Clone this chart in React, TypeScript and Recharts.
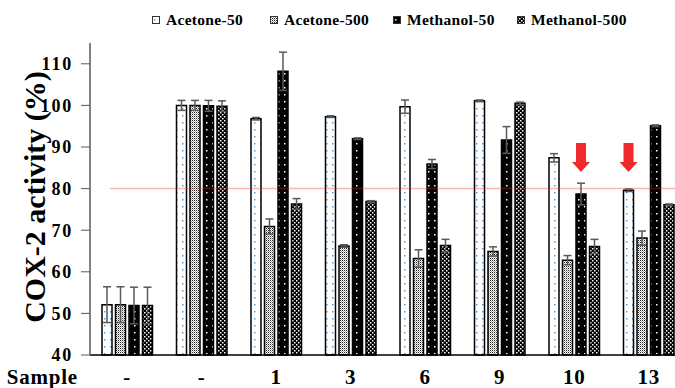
import React from "react";
import {
  BarChart,
  Bar,
  XAxis,
  YAxis,
  ReferenceLine,
  ErrorBar,
  LabelList,
  Legend,
} from "recharts";

const samples = ["-", "-", "1", "3", "6", "9", "10", "13"];

const acetone50 = [52.1, 100, 96.8, 97.3, 99.7, 101.1, 87.4, 79.6];
const acetone50Err = [4.3, 1.2, 0.3, 0.2, 1.6, 0.2, 1.0, 0.3];
const acetone500 = [52.1, 100, 70.9, 66.2, 63.2, 64.9, 62.8, 68.1];
const acetone500Err = [4.3, 1.2, 1.8, 0.3, 2.1, 1.1, 1.1, 1.7];
const methanol50 = [51.9, 99.9, 108.2, 92.0, 85.9, 91.7, 78.7, 95.1];
const methanol50Err = [4.4, 1.3, 4.6, 0.2, 1.1, 3.2, 2.6, 0.2];
const methanol500 = [51.9, 99.8, 76.3, 76.9, 66.3, 100.5, 66.1, 76.1];
const methanol500Err = [4.4, 1.3, 1.3, 0.2, 1.5, 0.3, 1.7, 0.2];

// red arrows marking the interesting bars
const arrowOnAcetone50 = [false, false, false, false, false, false, false, true];
const arrowOnMethanol50 = [false, false, false, false, false, false, true, false];
const arrowTipValue = 84;

const threshold = 80;
const yTicks = [40, 50, 60, 70, 80, 90, 100, 110];

const data = samples.map((s, i) => ({
  sample: s,
  a50: acetone50[i],
  a50e: acetone50Err[i],
  a500: acetone500[i],
  a500e: acetone500Err[i],
  m50: methanol50[i],
  m50e: methanol50Err[i],
  m500: methanol500[i],
  m500e: methanol500Err[i],
}));

const FONT = "'Liberation Serif', 'Times New Roman', serif";

const legendItems = [
  { label: "Acetone-50", fill: "url(#patA50)", left: 152 },
  { label: "Acetone-500", fill: "url(#patA500)", left: 270 },
  { label: "Methanol-50", fill: "url(#patM50)", left: 393 },
  { label: "Methanol-500", fill: "url(#patM500)", left: 517 },
];

const renderLegend = () => (
  <div
    style={{
      position: "relative",
      height: 20,
      fontFamily: FONT,
      fontWeight: 700,
      fontSize: 15.5,
      letterSpacing: 0.3,
      whiteSpace: "nowrap",
      color: "#000",
    }}
  >
    {legendItems.map((it) => (
      <div
        key={it.label}
        style={{
          position: "absolute",
          left: it.left,
          top: 0,
          height: 20,
          display: "flex",
          alignItems: "center",
        }}
      >
        <svg width={8} height={8} style={{ marginRight: 6 }}>
          <rect x={0.5} y={0.5} width={7} height={7} fill={it.fill} stroke="#333" strokeWidth={1} />
        </svg>
        <span>{it.label}</span>
      </div>
    ))}
  </div>
);

const makeArrow = (flags: boolean[]) => (props: any) => {
  const vb = props.viewBox ?? props;
  const { x, y, width, height } = vb;
  const idx = props.index;
  if (!flags[idx]) return null;
  const value = Number(props.value);
  const bottom = y + height;
  const ppu = height / (value - 40);
  const tipY = bottom - (arrowTipValue - 40) * ppu;
  const cx = x + width / 2;
  const d = `M${cx - 5},${tipY - 29} L${cx + 5},${tipY - 29} L${cx + 5},${tipY - 10} L${cx + 9},${tipY - 10} L${cx},${tipY} L${cx - 9},${tipY - 10} L${cx - 5},${tipY - 10} Z`;
  return <path d={d} fill="#ee2a2d" />;
};

const XTick = (props: any) => {
  const { x, y, payload } = props;
  return (
    <text
      x={x}
      y={y + 29}
      textAnchor="middle"
      style={{ fontFamily: FONT, fontWeight: 700, fontSize: 21, letterSpacing: 0.8 }}
      fill="#000"
    >
      {payload.value}
    </text>
  );
};

export default function App() {
  return (
    <div
      style={{
        position: "absolute",
        left: 0,
        top: 0,
        width: 675,
        height: 388,
        overflow: "hidden",
        background: "#fff",
        fontFamily: FONT,
      }}
    >
      <BarChart
        width={686}
        height={388}
        data={data}
        margin={{ top: 43, right: 0, bottom: 0, left: 0 }}
        barSize={10}
        barGap={3.5}
        style={{ fontFamily: FONT }}
      >
        <defs>
          <pattern id="patA50" width="6" height="7" patternUnits="userSpaceOnUse">
            <rect width="6" height="7" fill="#fff" />
            <rect x="2" y="3" width="1.5" height="1.5" fill="#5b9bd5" />
          </pattern>
          <pattern id="patA500" width="2" height="2" patternUnits="userSpaceOnUse">
            <rect width="2" height="2" fill="#fff" />
            <rect x="0" y="0" width="1" height="1" fill="#222" />
            <rect x="1" y="1" width="1" height="1" fill="#aaa" />
          </pattern>
          <pattern id="patM50" width="6" height="7" patternUnits="userSpaceOnUse">
            <rect width="6" height="7" fill="#000" />
            <rect x="2" y="3" width="1.5" height="1.5" fill="#fff" />
          </pattern>
          <pattern id="patM500" width="4" height="4" patternUnits="userSpaceOnUse">
            <rect width="4" height="4" fill="#000" />
            <rect x="0" y="0" width="1.5" height="1.5" fill="#fff" />
            <rect x="2" y="2" width="1.5" height="1.5" fill="#fff" />
          </pattern>
        </defs>

        <XAxis
          dataKey="sample"
          height={33}
          axisLine={{ stroke: "#000", strokeWidth: 1.5 }}
          tickLine={false}
          tickSize={0}
          tickMargin={0}
          tick={<XTick />}
          interval={0}
          label={{
            content: (p: any) => {
              const vb = p.viewBox;
              return (
                <text
                  x={vb.x - 12}
                  y={vb.y + 29}
                  textAnchor="end"
                  style={{ fontFamily: FONT, fontWeight: 700, fontSize: 21, letterSpacing: 0.8 }}
                  fill="#000"
                >
                  Sample
                </text>
              );
            },
          }}
        />
        <YAxis
          width={90}
          domain={[40, 115]}
          ticks={yTicks}
          interval={0}
          axisLine={{ stroke: "#595959", strokeWidth: 1.5 }}
          tickLine={{ stroke: "#595959", strokeWidth: 1 }}
          tickSize={9}
          tickMargin={8}
          tick={{ fill: "#000", style: { fontFamily: FONT, fontWeight: 700, fontSize: 18, letterSpacing: 1.8 } }}
          label={{
            content: (p: any) => {
              const vb = p.viewBox;
              const cx = vb.x + 34;
              const cy = vb.y + vb.height / 2 - 2;
              return (
                <text
                  x={cx}
                  y={cy}
                  transform={`rotate(-90, ${cx}, ${cy})`}
                  textAnchor="middle"
                  dominantBaseline="central"
                  style={{ fontFamily: FONT, fontWeight: 700, fontSize: 30 }}
                  fill="#000"
                >
                  COX-2 activity (%)
                </text>
              );
            },
          }}
        />

        <Legend
          verticalAlign="middle"
          align="center"
          content={renderLegend}
          wrapperStyle={{ top: 10, left: 0, width: 675 }}
        />

        <Bar dataKey="a50" fill="url(#patA50)" stroke="#000" strokeWidth={1.5} isAnimationActive={false}>
          <ErrorBar dataKey="a50e" width={4} stroke="#595959" strokeWidth={1.5} direction="y" />
          <LabelList dataKey="a50" content={makeArrow(arrowOnAcetone50)} />
        </Bar>
        <Bar dataKey="a500" fill="url(#patA500)" stroke="#000" strokeWidth={1.5} isAnimationActive={false}>
          <ErrorBar dataKey="a500e" width={4} stroke="#595959" strokeWidth={1.5} direction="y" />
        </Bar>
        <Bar dataKey="m50" fill="url(#patM50)" stroke="#000" strokeWidth={1.5} isAnimationActive={false}>
          <ErrorBar dataKey="m50e" width={4} stroke="#595959" strokeWidth={1.5} direction="y" />
          <LabelList dataKey="m50" content={makeArrow(arrowOnMethanol50)} />
        </Bar>
        <Bar dataKey="m500" fill="url(#patM500)" stroke="#000" strokeWidth={1.5} isAnimationActive={false}>
          <ErrorBar dataKey="m500e" width={4} stroke="#595959" strokeWidth={1.5} direction="y" />
        </Bar>

        <ReferenceLine
          y={threshold}
          stroke="#e63232"
          strokeOpacity={0.35}
          strokeWidth={1.5}
          shape={(p: any) => (
            <line
              x1={p.x1 + 20}
              y1={p.y1}
              x2={p.x2}
              y2={p.y2}
              stroke="#e63232"
              strokeOpacity={0.35}
              strokeWidth={1.5}
            />
          )}
        />
      </BarChart>
    </div>
  );
}
